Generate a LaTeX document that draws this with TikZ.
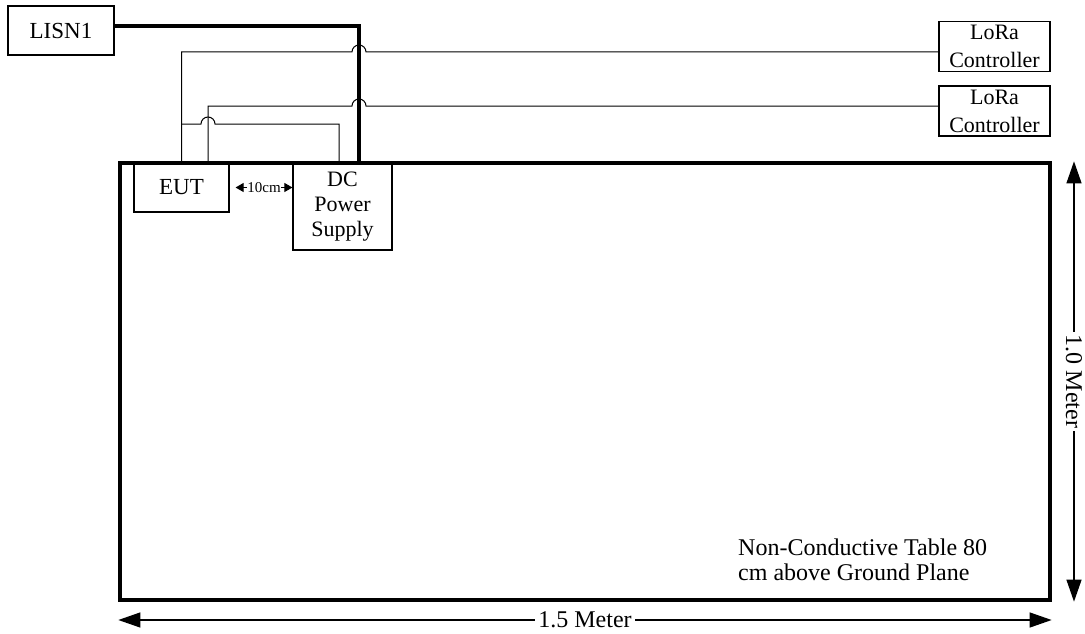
\documentclass[tikz,border=0pt]{standalone}
\usepackage{fontspec}
\setmainfont{Liberation Serif}
\usetikzlibrary{arrows.meta}
\newcommand\setfs[2]{\fontsize{#1}{#2}\selectfont}
\begin{document}
\begin{tikzpicture}[x=1pt,y=1pt,
  box/.style={draw,line width=1.2pt,inner sep=0pt,align=center},
  wire/.style={line width=1pt},
  power/.style={line width=3.2pt},
  dimline/.style={line width=1.3pt,{Triangle[length=22pt,width=15pt]}-{Triangle[length=22pt,width=15pt]}},
  gapline/.style={line width=1pt,{Triangle[length=8pt,width=9pt]}-{Triangle[length=8pt,width=9pt]}},
  dimlabel/.style={fill=white,inner sep=3pt,font=\setfs{24}{26}}]
\useasboundingbox (0,0) rectangle (1085,-634);

% table
\node[draw,line width=3.3pt,minimum width=930pt,minimum height=437pt,inner sep=0pt] (table) at (585,-381.5) {};

% boxes
\node[box,minimum width=106pt,minimum height=49pt,font=\setfs{23}{25}] (lisn) at (61,-30.5) {LISN1};
\node[box,minimum width=111pt,minimum height=50pt,font=\setfs{22}{28}] (lora1) at (994.5,-46.5) {LoRa\\Controller};
\node[box,minimum width=111pt,minimum height=50pt,font=\setfs{22}{28}] (lora2) at (994.5,-111) {LoRa\\Controller};
\node[box,minimum width=95pt,minimum height=49pt,font=\setfs{23}{25}] (eut) at (181.5,-187.5) {EUT};
\node[box,minimum width=99pt,minimum height=87pt,font=\setfs{22}{25}] (dc) at (342.5,-206.5) {DC\\Power\\Supply};

% power line from LISN
\draw[power] (lisn.east |- 0,-26) -- (359,-26) -- (dc.north -| 359,0);

% wires
\draw[wire] (lora1.west |- 0,-52) -- (366,-52) arc[start angle=0,end angle=180,radius=7] -- (eut.north |- 0,-52) -- (eut.north);
\draw[wire] (eut.north |- 0,-124) -- (201,-124) arc[start angle=180,end angle=0,radius=7] -- (339,-124) -- (dc.north -| 339,0);
\draw[wire] (lora2.west |- 0,-106) -- (366,-106) arc[start angle=0,end angle=180,radius=7] -- (208,-106) -- (eut.north -| 208,0);

% 10cm gap
\draw[gapline] ([xshift=6pt]eut.east) -- node[fill=white,inner sep=0.5pt,font=\setfs{15}{17}] {10cm} (dc.west |- eut.east);

% dimensions
\draw[dimline] (table.south west |- 0,-620) -- node[dimlabel] {1.5 Meter} (table.south east |- 0,-620);
\draw[dimline] (table.north east -| 1074,0) -- node[dimlabel,rotate=-90] {1.0 Meter} (table.south east -| 1074,0);

% note
\node[anchor=west,align=left,inner sep=0pt,font=\setfs{24}{25}] (note) at (738,-560) {Non-Conductive Table 80\\cm above Ground Plane};
\end{tikzpicture}
\end{document}
